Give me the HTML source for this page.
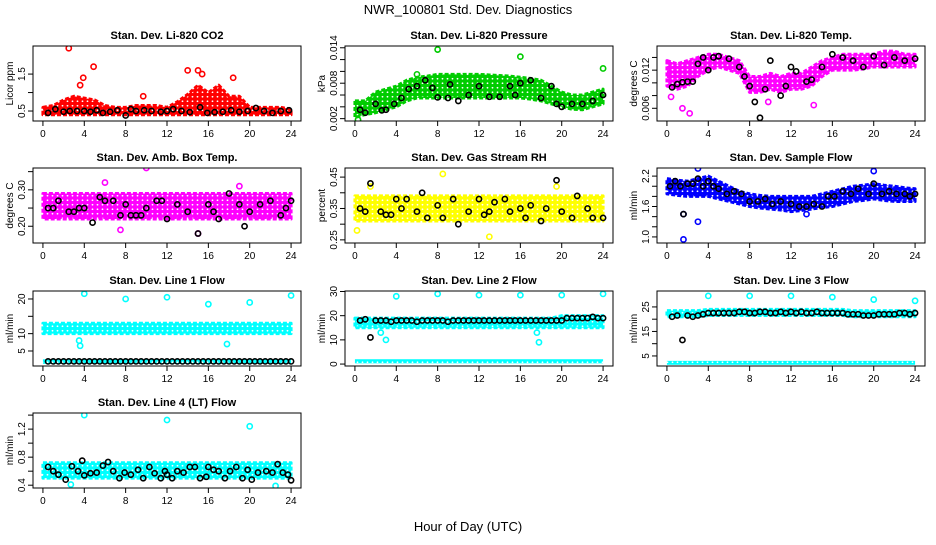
<!DOCTYPE html>
<html><head><meta charset="utf-8"><style>
body{margin:0;background:#fff}
svg text{font-family:"Liberation Sans",sans-serif}
</style></head><body>
<svg id="c" width="936" height="540" xmlns="http://www.w3.org/2000/svg">
<rect width="936" height="540" fill="#fff"/>
<text x="468" y="14" text-anchor="middle" font-size="13">NWR_100801  Std. Dev. Diagnostics</text>
<text x="468" y="531" text-anchor="middle" font-size="13">Hour of Day (UTC)</text>
</svg>
<script>
const xTicks=[0,4,8,12,16,20,24];
const panelTitles=["Stan. Dev. Li-820 CO2","Stan. Dev. Li-820 Pressure","Stan. Dev. Li-820 Temp.","Stan. Dev. Amb. Box Temp.","Stan. Dev. Gas Stream RH","Stan. Dev. Sample Flow","Stan. Dev. Line 1 Flow","Stan. Dev. Line 2 Flow","Stan. Dev. Line 3 Flow","Stan. Dev. Line 4 (LT) Flow"];
const yTitles=["Licor ppm","kPa","degrees C","degrees C","percent","ml/min","ml/min","ml/min","ml/min","ml/min"];
const colors=["#ff0000","#00cc00","#ff00ff","#ff00ff","#ffff00","#0000ff","#00ffff","#00ffff","#00ffff","#00ffff"];
const yRanges=[[0.23,2.26],[0.0016,0.0143],[0.0040,0.0158],[0.154,0.36],[0.24,0.479],[0.88,2.36],[0.67,22.3],[-0.8,30.2],[0.9,31.5],[0.36,1.43]];
const yTickVals=[[0.5,1,1.5],[0.002,0.004,0.006,0.008,0.010,0.012,0.014],[0.006,0.008,0.010,0.012,0.014],[0.20,0.25,0.30,0.35],[0.25,0.30,0.35,0.40,0.45],[1.0,1.2,1.4,1.6,1.8,2.0,2.2],[5,10,15,20],[0,10,20,30],[5,10,15,20,25],[0.4,0.6,0.8,1.0,1.2,1.4]];
const yTickLabels=[["0.5","","1.5"],["0.002","","","0.008","","","0.014"],["0.006","","","0.012",""],["0.20","","0.30",""],["0.25","","0.35","","0.45"],["1.0","","","1.6","","","2.2"],["5","10","","20"],["0","10","20","30"],["5","","15","","25"],["0.4","","0.8","","1.2",""]];
const bandHours=[0,1,2,3,4,5,6,7,8,9,10,11,12,13,14,15,16,17,18,19,20,21,22,23,24];
const bandLo=[
[0.4,0.4,0.4,0.4,0.4,0.4,0.4,0.4,0.4,0.4,0.4,0.4,0.4,0.4,0.4,0.4,0.4,0.4,0.4,0.4,0.4,0.4,0.4,0.4,0.4],
[0.0022,0.0027,0.003,0.0035,0.004,0.005,0.0055,0.0055,0.0055,0.0055,0.0055,0.0055,0.0055,0.0055,0.0055,0.0055,0.0055,0.0053,0.005,0.0045,0.004,0.0036,0.0035,0.004,0.0045],
[0.0095,0.009,0.0095,0.011,0.012,0.0125,0.012,0.0115,0.0085,0.0085,0.009,0.0085,0.009,0.009,0.0095,0.011,0.012,0.012,0.012,0.0122,0.0125,0.0125,0.0125,0.0125,0.0125],
[0.22,0.22,0.22,0.22,0.22,0.22,0.22,0.22,0.22,0.22,0.22,0.22,0.22,0.22,0.22,0.22,0.22,0.22,0.22,0.22,0.22,0.22,0.22,0.22,0.22],
[0.31,0.31,0.31,0.31,0.31,0.31,0.31,0.31,0.31,0.31,0.31,0.31,0.31,0.31,0.31,0.31,0.31,0.31,0.31,0.31,0.31,0.31,0.31,0.31,0.31],
[1.85,1.82,1.8,1.8,1.8,1.75,1.7,1.65,1.6,1.57,1.55,1.53,1.5,1.52,1.55,1.58,1.6,1.65,1.7,1.72,1.75,1.72,1.7,1.7,1.7],
[10,10,10,10,10,10,10,10,10,10,10,10,10,10,10,10,10,10,10,10,10,10,10,10,10],
[15,15,15,15,15,15,15,15,15,15,15,15,15,15,15,15,15,15,15,15,15,15,15,15,15],
[21,21,21,21,21.5,21.5,21.5,21.5,21.5,21.5,21.5,21.5,21.5,21.5,21.5,21.5,21.5,21.5,21,21,21,21,21,21,21],
[0.5,0.5,0.5,0.5,0.5,0.5,0.5,0.5,0.5,0.5,0.5,0.5,0.5,0.5,0.5,0.5,0.5,0.5,0.5,0.5,0.5,0.5,0.5,0.5,0.5]];
const bandHi=[
[0.6,0.65,0.8,0.9,0.85,0.8,0.65,0.6,0.6,0.65,0.65,0.65,0.6,0.75,0.95,1.2,1.0,1.2,0.9,0.9,0.6,0.6,0.6,0.6,0.55],
[0.005,0.005,0.0065,0.007,0.0075,0.0085,0.009,0.0092,0.0095,0.0095,0.0095,0.0095,0.0095,0.0094,0.0093,0.0092,0.009,0.0088,0.0085,0.0075,0.0065,0.006,0.006,0.0065,0.007],
[0.0135,0.013,0.0135,0.014,0.0145,0.0145,0.014,0.0135,0.011,0.011,0.0115,0.011,0.0115,0.0115,0.0125,0.0135,0.014,0.0145,0.0145,0.0145,0.0145,0.015,0.015,0.0145,0.0145],
[0.29,0.29,0.29,0.29,0.29,0.29,0.29,0.29,0.29,0.29,0.29,0.29,0.29,0.29,0.29,0.29,0.29,0.29,0.29,0.29,0.29,0.29,0.29,0.29,0.29],
[0.39,0.39,0.39,0.39,0.39,0.39,0.39,0.39,0.39,0.39,0.39,0.39,0.39,0.39,0.39,0.39,0.39,0.39,0.39,0.39,0.39,0.39,0.39,0.39,0.39],
[2.15,2.12,2.1,2.15,2.2,2.1,2.0,1.9,1.85,1.82,1.8,1.8,1.8,1.8,1.8,1.85,1.9,1.95,2.0,2.02,2.05,2.02,2.0,1.97,1.95],
[13,13,13,13,13,13,13,13,13,13,13,13,13,13,13,13,13,13,13,13,13,13,13,13,13],
[19,19,19,19,19,19,19,19,19,19,19,19,19,19,19,19,19,19,19,19,20,20,20,20,20],
[23.5,23.5,23.5,23.5,24,24,24,24,24,24,24,24,24,24,24,24,24,24,23.5,23.5,23.5,23.5,23.5,23.5,23.5],
[0.72,0.72,0.72,0.72,0.72,0.72,0.72,0.72,0.72,0.72,0.72,0.72,0.72,0.72,0.72,0.72,0.72,0.72,0.72,0.72,0.72,0.72,0.72,0.72,0.72]];
const lowBandLo=[null,null,null,null,null,null,1.3,0.3,1.4,null];
const lowBandHi=[null,null,null,null,null,null,2.6,2.0,3.0,null];
const outX=[[2.5,4.9,3.6,3.9,14,15,15.4,18.4,9.7],[8,16,24,6,0.3],[2.2,0.4,14.2,9.8,1.5],[10,15,6,19,7.5],[1.5,8.5,19.5,13,0.2],[1.6,1.6,3,3,20,13.5],[4,8,12,16,20,24,3.5,3.6,17.8],[4,8,12,16,20,24,2.5,3,17.6,17.8],[4,8,12,16,20,24],[4,12,20,2.7,22.5]];
const outY=[[2.2,1.7,1.2,1.4,1.6,1.6,1.5,1.4,0.9],[0.0137,0.0125,0.0105,0.0095,0.0018],[0.0052,0.0078,0.0065,0.007,0.006],[0.36,0.18,0.32,0.31,0.19],[0.42,0.46,0.42,0.26,0.28],[1.45,0.95,1.3,2.35,2.3,1.45],[21.5,20,20.5,18.5,19,21,8,6.5,7],[28,29,28.5,28.5,28.5,29,13,10,13,9],[29.5,29.5,29.5,29,28,27.5],[1.4,1.33,1.24,0.41,0.39]];
const blkX=[[0.5,1.2,2,2.6,3.3,4,4.6,5.2,5.8,6.5,7.2,8,8.5,9,9.8,10.5,11.4,12,12.6,13.4,14.2,15.2,15.9,16.6,17.4,18.2,19,19.8,20.6,21.4,22.2,23,23.8],
[0.5,1,2,2.6,3,3.8,4.5,5.2,6,6.8,7.5,8,9,9.2,10,11,12,13,14,15,15.5,16,17,18,19,19.5,20,21,22,23,24],
[0.5,1,1.5,2,2.5,3,3.5,4,4.5,5,6,7,7.5,8,8.5,9,9.5,10,11,11.5,12,12.5,13.5,14,15,16,17,18,19,20,21,22,23,24],
[0.5,1,1.5,2.5,3,3.5,4,4.8,5.5,6,6.8,7.5,8,8.5,9,9.5,10,11,11.5,12,13,14,15,16,16.5,17,18,19,19.5,20,21,22,23,23.5,24],
[0.5,1,1.5,2.5,3,3.5,4,4.5,5,6,6.5,7,8,8.5,9.5,10,11,12,12.5,13,13.5,14.5,15,16,16.5,17,18,18.5,19.5,20,21,21.5,22.5,23,24],
[0.3,0.8,1.3,1.6,2,2.5,3,3.5,4,4.5,5,5.8,6.5,7.2,8,8.8,9.5,10.2,11,12,12.8,13.5,14.2,15,15.6,16.2,17,17.8,18.5,19.5,20,20.8,21.5,22.2,23,23.5,24],
[0.5,1,1.5,2,2.5,3,3.5,4,4.5,5,5.5,6,6.5,7,7.5,8,8.5,9,9.5,10,10.5,11,11.5,12,12.5,13,13.5,14,14.5,15,15.5,16,16.5,17,17.5,18,18.5,19,19.5,20,20.5,21,21.5,22,22.5,23,23.5,24],
[0.5,1,1.5,2,2.5,3,3.5,4,4.5,5,5.5,6,6.5,7,7.5,8,8.5,9,9.5,10,10.5,11,11.5,12,12.5,13,13.5,14,14.5,15,15.5,16,16.5,17,17.5,18,18.5,19,19.5,20,20.5,21,21.5,22,22.5,23,23.5,24],
[0.5,1,1.5,2,2.5,3,3.5,4,4.5,5,5.5,6,6.5,7,7.5,8,8.5,9,9.5,10,10.5,11,11.5,12,12.5,13,13.5,14,14.5,15,15.5,16,16.5,17,17.5,18,18.5,19,19.5,20,20.5,21,21.5,22,22.5,23,23.5,24],
[0.5,1,1.5,2.2,2.8,3.4,3.8,4,4.6,5.2,5.8,6.3,6.8,7.4,7.9,8.5,9.2,9.7,10.3,10.8,11.4,11.8,12,12.5,13,13.6,14.2,14.7,15.2,15.8,16,16.5,17,17.6,18.1,18.7,19.3,19.8,20.2,20.8,21.6,22.2,22.7,23.2,23.7,24]];
const blkY=[[0.45,0.55,0.48,0.5,0.5,0.5,0.48,0.52,0.45,0.48,0.52,0.38,0.55,0.5,0.52,0.5,0.48,0.5,0.55,0.5,0.47,0.6,0.45,0.47,0.48,0.52,0.48,0.5,0.58,0.5,0.45,0.5,0.52],
[0.0035,0.003,0.0045,0.0034,0.0035,0.0045,0.0055,0.007,0.0075,0.0085,0.0072,0.0056,0.0055,0.0078,0.005,0.006,0.0075,0.0057,0.0057,0.0075,0.006,0.008,0.0085,0.0055,0.0075,0.0045,0.004,0.0045,0.0045,0.005,0.006],
[0.0093,0.0098,0.0101,0.0102,0.0102,0.013,0.014,0.012,0.014,0.0142,0.0138,0.0125,0.011,0.0095,0.007,0.0045,0.009,0.0135,0.008,0.0095,0.0125,0.0118,0.0102,0.0105,0.0125,0.0145,0.014,0.0135,0.0125,0.0142,0.0128,0.014,0.0135,0.0138,0.0138],
[0.25,0.25,0.27,0.24,0.24,0.25,0.25,0.21,0.28,0.27,0.27,0.23,0.26,0.23,0.23,0.23,0.25,0.27,0.27,0.22,0.26,0.24,0.18,0.26,0.24,0.22,0.29,0.26,0.2,0.24,0.26,0.27,0.23,0.25,0.27],
[0.35,0.34,0.43,0.34,0.33,0.33,0.38,0.35,0.38,0.34,0.4,0.32,0.36,0.32,0.38,0.3,0.34,0.38,0.33,0.34,0.37,0.38,0.34,0.35,0.32,0.36,0.31,0.35,0.44,0.34,0.32,0.39,0.35,0.32,0.32],
[2.0,2.1,2.0,1.45,2.05,2.05,2.15,2.0,2.1,2.0,1.95,1.85,1.9,1.85,1.7,1.7,1.75,1.65,1.7,1.65,1.6,1.6,1.65,1.6,1.8,1.8,1.9,1.85,1.95,1.85,2.05,1.85,1.9,1.85,1.85,1.8,1.85],
[2,2,2,2,2,2,2,2,2,2,2,2,2,2,2,2,2,2,2,2,2,2,2,2,2,2,2,2,2,2,2,2,2,2,2,2,2,2,2,2,2,2,2,2,2,2,2,2],
[18,18.5,11,18,18,18,17.5,18,18,18,18,17.5,18,18,18,18,18,17.5,18,18,18,18,18,18,18,18,18,18,18,18,18,18,18,18,18,18,18,18,18,18,19,19,19,19,19,19.5,19,19],
[21,21.5,11.5,21.5,21,21.5,22,22.5,22.5,22.5,22.5,22.5,22.5,23,23,22.5,22.5,23,23,22.5,22.5,23,22.5,23,22.5,23,22.5,22.5,23,22.5,22.5,22.5,22.5,22.5,22,22,22,21.5,21.5,21.5,22,22,22,22,22.5,22.5,22,22.5],
[0.66,0.6,0.55,0.48,0.67,0.6,0.75,0.54,0.57,0.58,0.68,0.73,0.6,0.5,0.58,0.55,0.62,0.5,0.66,0.57,0.5,0.6,0.55,0.5,0.6,0.58,0.66,0.66,0.5,0.52,0.66,0.62,0.6,0.5,0.6,0.66,0.5,0.62,0.48,0.58,0.6,0.58,0.7,0.58,0.55,0.47]];

const NS="http://www.w3.org/2000/svg";
const svg=document.getElementById('c');
function mk(tag,attrs,parent){const e=document.createElementNS(NS,tag);for(const k in attrs)e.setAttribute(k,attrs[k]);(parent||svg).appendChild(e);return e;}
const defs=mk('defs',{});
const colLeft=[33,345,657], rowTop=[46,168,291,413], W=268, H=75;
for(let p=0;p<10;p++){
  const pat=mk('pattern',{id:'pt'+p,width:5,height:4.5,patternUnits:'userSpaceOnUse'},defs);
  mk('rect',{width:5,height:4.5,fill:colors[p]},pat);
  mk('circle',{cx:2.5,cy:2.25,r:0.9,fill:'#fff'},pat);
}
for(let p=0;p<10;p++){
  const L=colLeft[p%3], T=rowTop[Math.floor(p/3)];
  const g=mk('g',{});
  
  
  const [y0,y1]=yRanges[p];
  const xs=h=>L+(h+0.96)/25.92*W;
  const ys=v=>T+H-(v-y0)/(y1-y0)*H;
  const clip=mk('clipPath',{id:'cp'+p},g);
  mk('rect',{x:L,y:T,width:W,height:H},clip);
  const dg=mk('g',{'clip-path':'url(#cp'+p+')'},g);
  let pts=bandHours.map((h,i)=>xs(h)+','+ys(bandHi[p][i]));
  pts=pts.concat(bandHours.slice().reverse().map((h,j)=>{const i=bandHours.length-1-j;return xs(h)+','+ys(bandLo[p][i]);}));
  const band=mk('polygon',{points:pts.join(' '),fill:'url(#pt'+p+')',stroke:colors[p],'stroke-width':3,'stroke-linejoin':'round','stroke-dasharray':'4 2'},dg);
  
  
  if(lowBandLo[p]!==null){
    const lb=mk('rect',{x:xs(0),y:ys(lowBandHi[p]),width:xs(24)-xs(0),height:ys(lowBandLo[p])-ys(lowBandHi[p]),fill:'url(#pt'+p+')'},dg);
    
    
  }
  outX[p].forEach((h,i)=>{const c=mk('circle',{cx:xs(h),cy:ys(outY[p][i]),r:2.6,fill:'none',stroke:colors[p],'stroke-width':1.6},dg);
    
    });
  blkX[p].forEach((h,i)=>{const c=mk('circle',{cx:xs(h),cy:ys(blkY[p][i]),r:2.6,fill:'none',stroke:'#000','stroke-width':1.6},dg);
    
    });
  const box=mk('rect',{x:L,y:T,width:W,height:H,fill:'none',stroke:'#000','stroke-width':1},g);
  
  
  const t=mk('text',{x:L+W/2,y:T-7,'text-anchor':'middle','font-size':11,'font-weight':'bold'},g);
  t.textContent=panelTitles[p];
  
  
  const yt=mk('text',{x:0,y:0,'text-anchor':'middle','font-size':10,transform:`translate(${L-20},${T+H/2}) rotate(-90)`},g);
  yt.textContent=yTitles[p];
  
  
  mk('line',{x1:xs(0),x2:xs(24),y1:T+H,y2:T+H,stroke:'#000'},g);
  xTicks.forEach(v=>{mk('line',{x1:xs(v),x2:xs(v),y1:T+H,y2:T+H+5,stroke:'#000'},g);
    const tl=mk('text',{x:xs(v),y:T+H+16,'text-anchor':'middle','font-size':10},g);tl.textContent=v;
    
    });
  yTickVals[p].forEach((v,i)=>{const y=ys(v);if(y<T-1||y>T+H+1)return;
    mk('line',{x1:L-5,x2:L,y1:y,y2:y,stroke:'#000'},g);
    if(yTickLabels[p][i]){const tl=mk('text',{x:0,y:0,'text-anchor':'middle','font-size':10,transform:`translate(${L-8},${y}) rotate(-90)`},g);tl.textContent=yTickLabels[p][i];
    
    }});
}
</script>
</body></html>
